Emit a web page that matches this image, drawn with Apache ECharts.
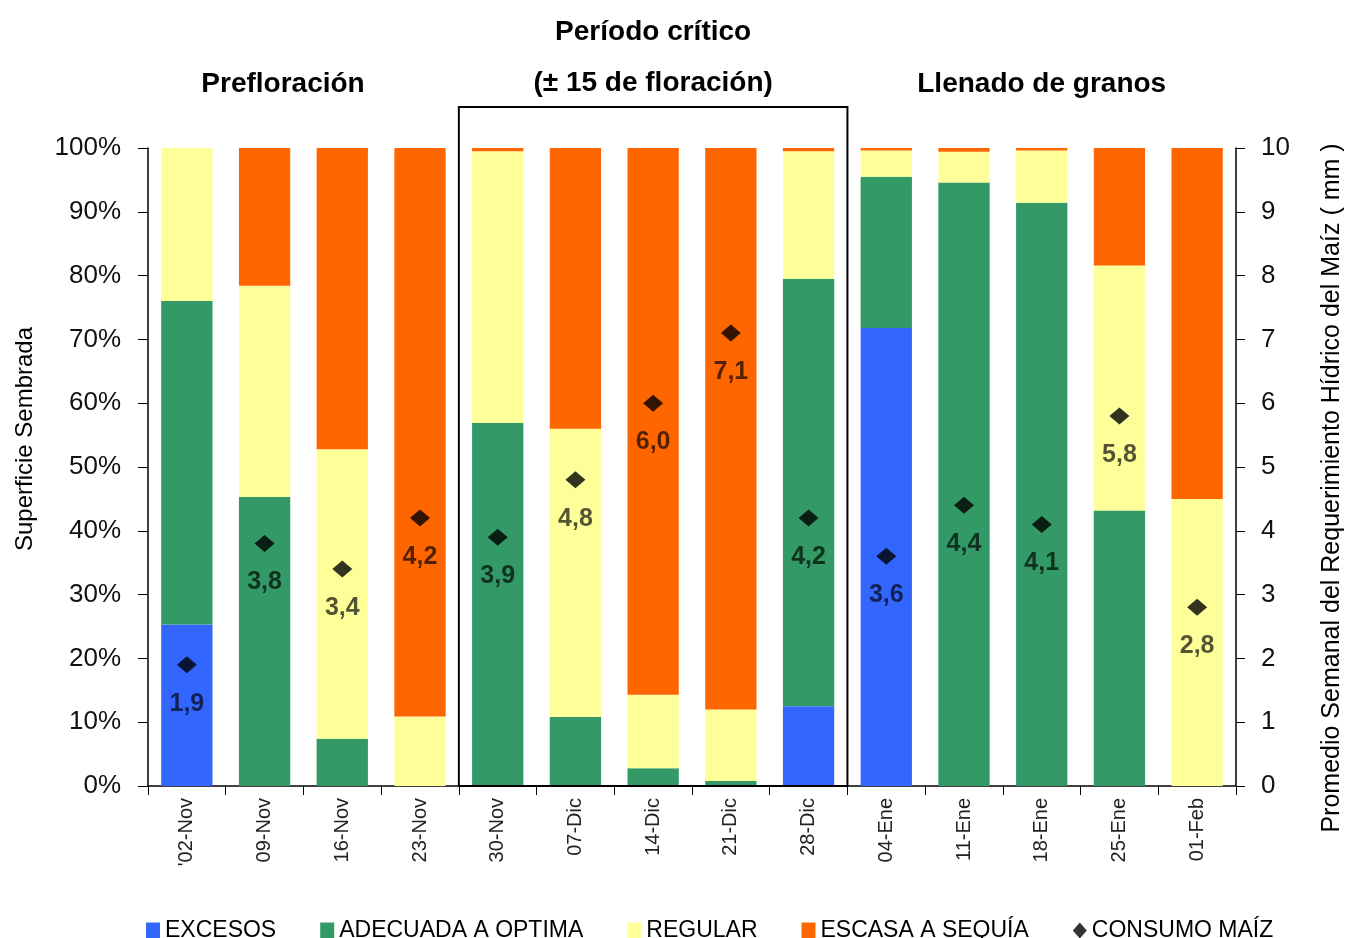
<!DOCTYPE html>
<html>
<head>
<meta charset="utf-8">
<script src="https://cdn.jsdelivr.net/npm/echarts@6/dist/echarts.min.js"></script>
<style>
html,body{margin:0;padding:0;background:#fff;}
#c{width:1347px;height:938px;}
</style>
</head>
<body>
<div id="c"></div>
<script>
const categories = ["'02-Nov","09-Nov","16-Nov","23-Nov","30-Nov","07-Dic","14-Dic","21-Dic","28-Dic","04-Ene","11-Ene","18-Ene","25-Ene","01-Feb"];
const excesos   = [25.3, 0,    0,    0,    0,    0,    0,    0,    12.5, 71.8, 0,    0,    0,    0];
const adecuada  = [50.7, 45.3, 7.4,  0,    56.9, 10.8, 2.8,  0.8,  67.0, 23.7, 94.6, 91.4, 43.2, 0];
const regular   = [24.0, 33.1, 45.4, 10.9, 42.6, 45.2, 11.5, 11.2, 20.0, 4.1,  4.8,  8.2,  38.4, 45.0];
const escasa    = [0,    21.6, 47.2, 89.1, 0.5,  44.0, 85.7, 88.0, 0.5,  0.4,  0.6,  0.4,  18.4, 55.0];
const consumo   = [1.9, 3.8, 3.4, 4.2, 3.9, 4.8, 6.0, 7.1, 4.2, 3.6, 4.4, 4.1, 5.8, 2.8];
const leftTicks = [0,10,20,30,40,50,60,70,80,90,100];
const rightTicks = [0,1,2,3,4,5,6,7,8,9,10];

const FONT = "'Liberation Sans', Arial, sans-serif";
const chart = echarts.init(document.getElementById('c'));

function barSeries(name, data, color){
  return {name, type:'bar', stack:'s', data, barCategoryGap:'34%', itemStyle:{color}, emphasis:{disabled:true}};
}

const option = {
  backgroundColor:'#fff',
  animation:false,
  grid:{left:148, right:111, top:148, bottom:152, containLabel:false, outerBoundsMode:'none'},
  legend:{
    left:141, top:914, itemGap:44, itemWidth:14, itemHeight:16,
    textStyle:{fontFamily:FONT, fontSize:23, color:'#000'},
    data:[
      {name:'EXCESOS', icon:'rect'},
      {name:'ADECUADA A OPTIMA', icon:'rect'},
      {name:'REGULAR', icon:'rect'},
      {name:'ESCASA A SEQUÍA', icon:'rect'},
      {name:'CONSUMO MAÍZ', icon:'diamond', itemStyle:{color:'#000'}}
    ]
  },
  xAxis:{
    type:'category', data:categories, boundaryGap:true,
    axisLine:{lineStyle:{color:'#000', width:1.5}},
    axisTick:{show:true, length:9, alignWithLabel:false, lineStyle:{color:'#000'}},
    axisLabel:{rotate:90, margin:12, fontFamily:FONT, fontSize:20, color:'#222', interval:0}
  },
  yAxis:[
    {type:'value', min:0, max:100, interval:10, position:'left',
     name:'Superficie Sembrada', nameLocation:'middle', nameGap:111, nameRotate:90,
     nameTextStyle:{fontFamily:FONT, fontSize:24, color:'#000', padding:[0,0,0,56]},
     axisLine:{show:true, lineStyle:{color:'#000', width:1.5}},
     axisTick:{show:true, length:10, lineStyle:{color:'#000'}},
     axisLabel:{formatter:'{value}%', margin:27, fontFamily:FONT, fontSize:26, color:'#111'},
     splitLine:{show:false}},
    {type:'value', min:0, max:10, interval:1, position:'right',
     name:'Promedio Semanal del Requerimiento Hídrico del Maíz ( mm )', nameLocation:'middle', nameGap:84, nameRotate:90,
     nameTextStyle:{fontFamily:FONT, fontSize:25, color:'#000', padding:[0,42,0,0]},
     axisLine:{show:true, lineStyle:{color:'#000', width:1.5}},
     axisTick:{show:true, length:9, lineStyle:{color:'#000'}},
     axisLabel:{margin:25, fontFamily:FONT, fontSize:26, color:'#111'},
     splitLine:{show:false}}
  ],
  series:[
    barSeries('EXCESOS', excesos, '#3366FF'),
    barSeries('ADECUADA A OPTIMA', adecuada, '#339966'),
    barSeries('REGULAR', regular, '#FFFF99'),
    barSeries('ESCASA A SEQUÍA', escasa, '#FF6600'),
    {name:'CONSUMO MAÍZ', type:'scatter', yAxisIndex:1, data:consumo, symbol:'diamond', symbolSize:[20,17],
     itemStyle:{color:'#000'}, z:5,
     label:{show:true, position:'bottom', distance:18, fontFamily:FONT, fontWeight:'bold', fontSize:25,
            color:'rgba(0,0,0,0.84)', formatter:p=>p.value.toFixed(1).replace('.',',')}}
  ]
};
chart.setOption(option);

// box around the critical period and section titles
const xa = i => chart.convertToPixel({xAxisIndex:0}, i);
const xStart = (xa(3)+xa(4))/2;
const xEnd = (xa(8)+xa(9))/2;
const xRight = xa(13) + (xa(13)-xa(12))/2;
const yBottom = chart.convertToPixel({yAxisIndex:0}, 0);
const yTop = chart.convertToPixel({yAxisIndex:0}, 100) - 41;
const tStyle = {fontFamily:FONT, fontWeight:'bold', fontSize:28, fill:'#000', textAlign:'center', textVerticalAlign:'middle'};
chart.setOption({
  graphic:[
    {type:'rect', shape:{x:xStart, y:yTop, width:xEnd-xStart, height:yBottom-yTop}, style:{fill:'none', stroke:'#000', lineWidth:2}, z:10},
    {type:'text', x:(xStart+xEnd)/2, y:32, style:Object.assign({text:'Período crítico'}, tStyle)},
    {type:'text', x:(xStart+xEnd)/2, y:83, style:Object.assign({text:'(± 15 de floración)'}, tStyle)},
    {type:'text', x:283, y:84, style:Object.assign({text:'Prefloración'}, tStyle)},
    {type:'text', x:(xEnd+xRight)/2, y:84, style:Object.assign({text:'Llenado de granos'}, tStyle)}
  ]
});
</script>
</body>
</html>
